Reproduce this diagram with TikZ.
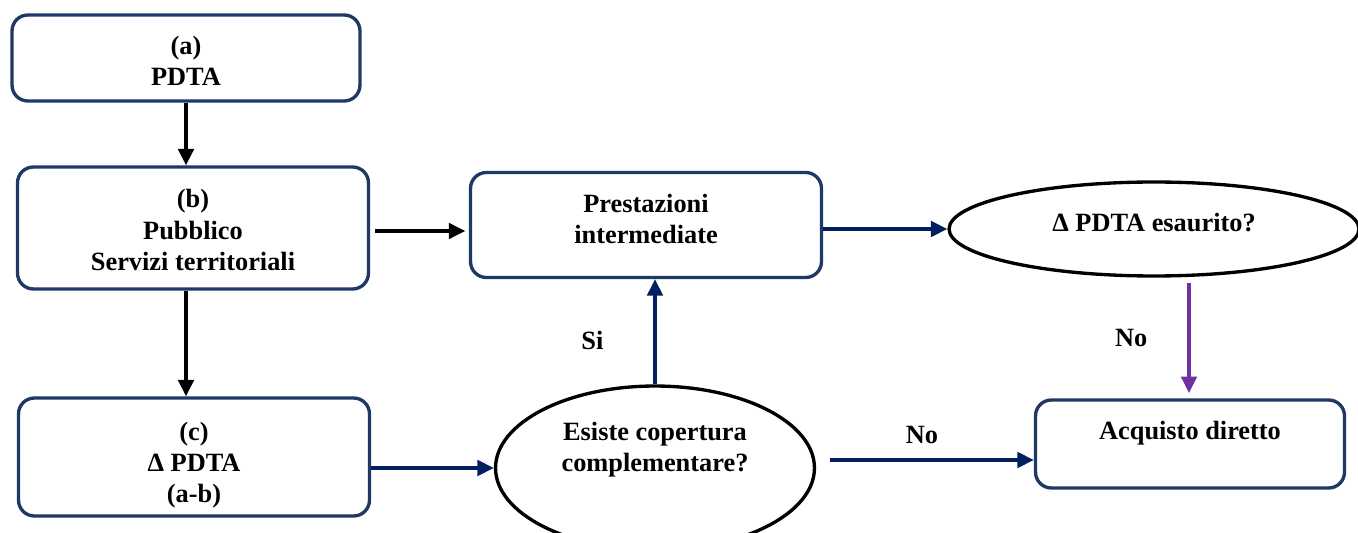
\documentclass[tikz,border=0pt]{standalone}
\usepackage{fontspec}
\setmainfont{Liberation Serif}
\usetikzlibrary{arrows.meta, positioning, shapes.geometric}
\definecolor{boxnavy}{HTML}{1F3864}
\definecolor{arrownavy}{HTML}{002060}
\definecolor{purpleno}{HTML}{7030A0}
\tikzset{
  >={Triangle[length=3.3mm,width=3.1mm]},
  procbox/.style={draw=boxnavy, line width=1.9pt, rounded corners=9pt, fill=white,
                  align=center, inner sep=0pt},
  decbox/.style={ellipse, draw=black, line width=1.9pt, fill=white,
                  align=center, inner sep=0pt},
  boxtxt/.style={align=center, inner sep=0pt},
  flow/.style={->, line width=2.2pt, draw=black},
  navyflow/.style={->, line width=1.9pt, draw=arrownavy},
  lbl/.style={inner sep=0pt},
}

\begin{document}
\begin{tikzpicture}[x=0.02cm, y=-0.02cm, font=\fontsize{15}{17.8}\selectfont\bfseries]
\useasboundingbox (0,0) rectangle (1358,533);

% ---- left column ----
\node[procbox, minimum width=6.96cm, minimum height=1.72cm] (pdta) at (186,58) {};
\node[boxtxt] (pdtatxt) at (186,61) {(a)\\PDTA};
\node[procbox, minimum width=7.02cm, minimum height=2.44cm] (pub) at (193,228) {};
\node[boxtxt] (pubtxt) at (193,230) {(b)\\Pubblico\\Servizi territoriali};
\node[procbox, minimum width=7.02cm, minimum height=2.36cm] (delta) at (194,457) {};
\node[boxtxt] (deltatxt) at (194,465) {(c)\\Δ PDTA\\(a-b)};

% ---- middle ----
\node[procbox, minimum width=7.02cm, minimum height=2.1cm] (prest) at (646,225) {};
\node[boxtxt] (presttxt) at (646,219) {Prestazioni\\intermediate};
\node[decbox, minimum width=6.38cm, minimum height=3.28cm] (cop) at (655,468) {};
\node[boxtxt] (coptxt) at (655,450) {Esiste copertura\\complementare?};

% ---- right ----
\node[decbox, minimum width=8.2cm, minimum height=1.88cm] (esau) at (1154,229) {};
\node[boxtxt] (esautxt) at (1154,223) {Δ PDTA esaurito?};
\node[procbox, minimum width=6.18cm, minimum height=1.76cm] (acq) at (1190,444) {};
\node[boxtxt] (acqtxt) at (1190,433) {Acquisto diretto};

% ---- connectors ----
\draw[flow] (pdta.south) -- (pub.north -| pdta.south);
\draw[flow] (pub.south -| pdta.south) -- (delta.north -| pdta.south);
\draw[flow, line width=1.8pt] ([xshift=3pt]pub.east |- 0,231) -- ([xshift=-2pt]prest.west |- 0,231);
\draw[navyflow] (delta.east |- cop.west) -- (cop.west);
\draw[navyflow] (cop.north) -- node[lbl, pos=.42, left=1cm] {Si} (prest.south -| cop.north);
\draw[navyflow] (prest.east |- 0,229) -- (esau.west);
\draw[navyflow, draw=purpleno] ([yshift=-3pt]esau.south -| 1189,0) -- node[lbl, pos=.5, left=0.8cm] {No} ([yshift=3pt]acq.north -| 1189,0);
\draw[navyflow] ([xshift=8pt]cop.east |- 0,460) -- node[lbl, pos=.45, above=0.3cm] {No} (acq.west |- 0,460);

\end{tikzpicture}
\end{document}
